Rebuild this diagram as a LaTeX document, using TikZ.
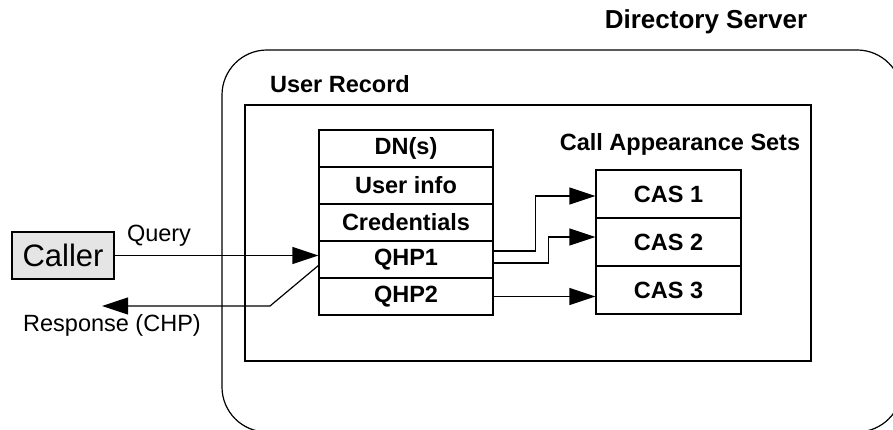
\documentclass[tikz,border=0pt]{standalone}
\usepackage{fontspec}
\setmainfont{Liberation Sans}
\usetikzlibrary{arrows.meta}

\tikzset{
  heading/.style={font=\fontsize{23.5}{28}\selectfont\bfseries},
  plain/.style={font=\fontsize{23.5}{28}\selectfont},
  field/.style={draw, line width=1.2pt, minimum width=174pt, minimum height=37pt,
    inner sep=0pt, heading},
  casbox/.style={field, minimum width=145pt, minimum height=48pt},
  arr/.style={-{Triangle[length=26pt,width=17pt]}, line width=1.2pt}
}

\begin{document}
\begin{tikzpicture}[x=1pt,y=-1pt]
    \useasboundingbox (0,0) rectangle (893,430);
    \clip (0,0) rectangle (893,430);

    \node[draw, line width=1.2pt, rounded corners=45pt, minimum width=680pt,
      minimum height=382pt] (server) at (562,241) {};
    \node[draw, line width=1.2pt, minimum width=566pt, minimum height=256pt] (rec) at (528,233) {};

    \node[heading, font=\fontsize{26}{30}\selectfont\bfseries] (ds) at (706,22) {Directory Server};
    \node[heading] (ur) at (340,84) {User Record};
    \node[heading] (cs) at (680,144) {Call Appearance Sets};

    \node[field] (dn)   at (406,148.5) {DN(s)};
    \node[field] (info) at (406,185.5) {User info};
    \node[field] (cred) at (406,222.5) {Credentials};
    \node[field] (qhp1) at (406,259.5) {QHP1};
    \node[field] (qhp2) at (406,296.5) {QHP2};

    \node[casbox] (cas1) at (668.5,194) {CAS 1};
    \node[casbox] (cas2) at (668.5,242) {CAS 2};
    \node[casbox] (cas3) at (668.5,290) {CAS 3};

    \node[draw, line width=1.2pt, fill=gray!20, minimum width=102pt, minimum height=47pt,
      inner sep=0pt, font=\fontsize{31}{36}\selectfont] (caller) at (63,255.5) {Caller};
    \node[plain] (q) at (159,236) {Query};
    \node[plain] (r) at (112,325) {Response (CHP)};

    \coordinate (bend) at (270,306);
    \coordinate (resp) at (102,306);

    \draw[arr] (caller.east) -- (caller.east -| qhp1.west);
    \draw[arr] ([yshift=-6pt]qhp1.west) -- (bend) -- (resp);

    \draw[arr] ([yshift=8.5pt]qhp1.east) -- ++(42,0) |- ([yshift=-2pt]cas1.west);
    \draw[arr] ([yshift=-3.5pt]qhp1.east) -- ++(55,0) |- ([yshift=5pt]cas2.west);
    \draw[arr] (qhp2.east) -- (qhp2.east -| cas3.west);
  \end{tikzpicture}
\end{document}
